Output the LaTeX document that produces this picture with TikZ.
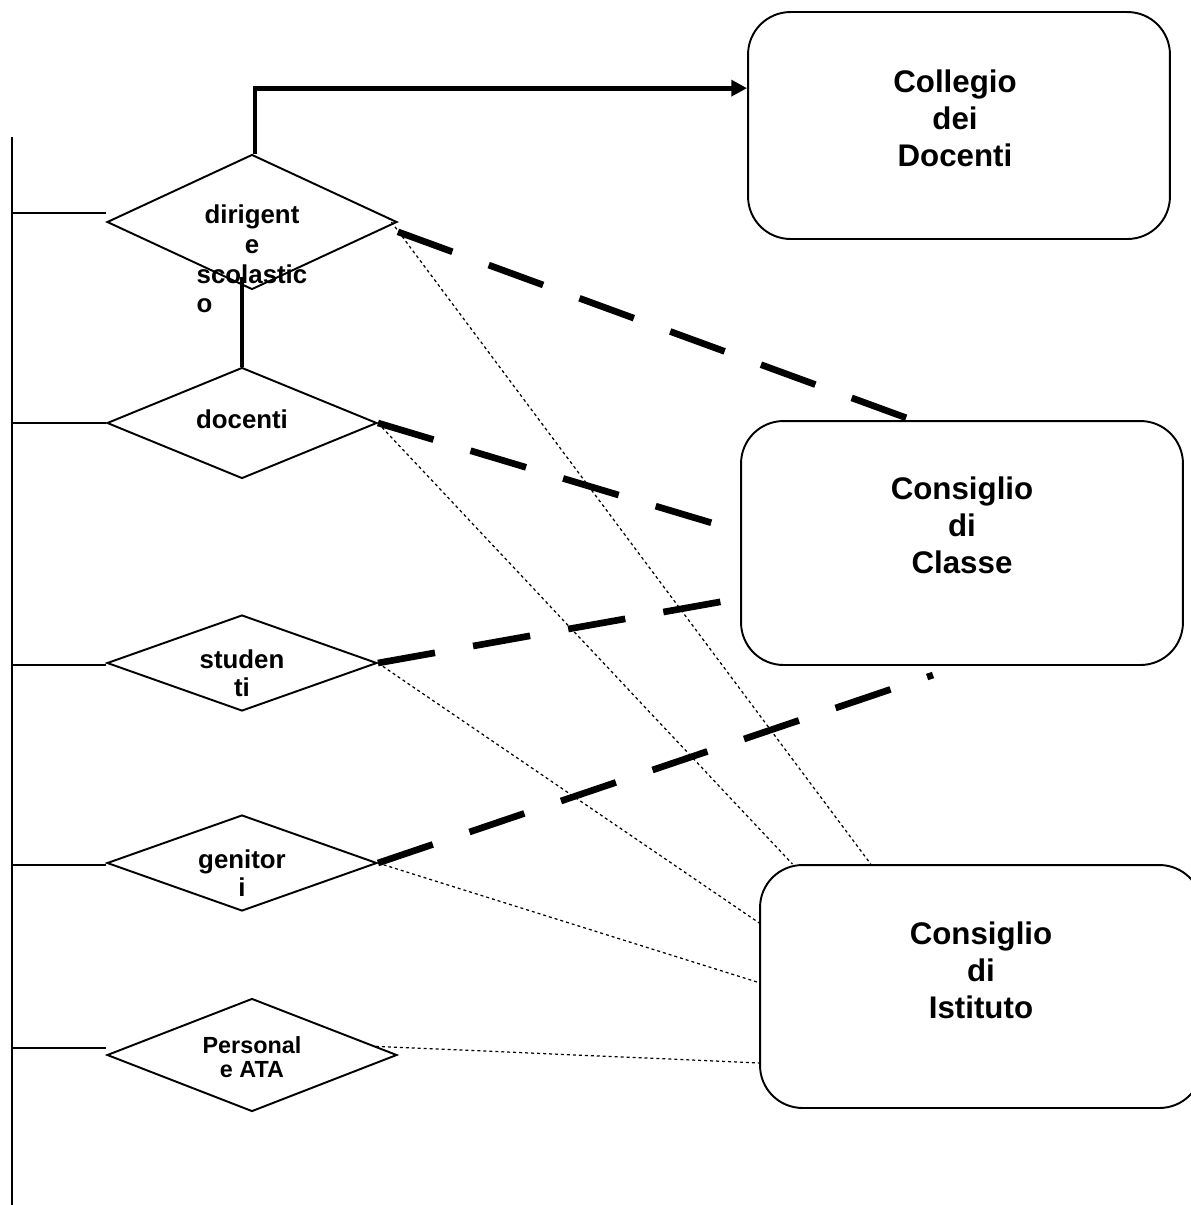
\documentclass[tikz,border=0pt]{standalone}
\usepackage{fontspec}
\setmainfont{Liberation Sans}
\usetikzlibrary{shapes.geometric,arrows.meta}
\begin{document}
\begin{tikzpicture}[x=0.02cm,y=-0.02cm]
	\tikzstyle{rombo}=[draw, diamond, inner sep=0pt, line width=1.1pt]
	\tikzstyle{organo}=[draw, rectangle, rounded corners=0.85cm, line width=1.1pt]
	\tikzstyle{voce}=[font=\fontsize{14.7}{16.2}\selectfont\bfseries, align=center]
	\tikzstyle{titolo}=[font=\fontsize{17.8}{21}\selectfont\bfseries, align=center]
	\tikzstyle{forte}=[line width=3.8pt, dash pattern=on 33pt off 22pt]
	\tikzstyle{tenue}=[line width=0.7pt, dash pattern=on 1.7pt off 1.7pt]
	\useasboundingbox (0,0) rectangle (1191,1205);
	% componenti
	\node[rombo, minimum width=5.8cm, minimum height=2.7cm] (dir) at (252,222) {};
	\node[rombo, minimum width=5.4cm, minimum height=2.22cm] (doc) at (242,423) {};
	\node[rombo, minimum width=5.4cm, minimum height=1.92cm] (stu) at (242,663) {};
	\node[rombo, minimum width=5.4cm, minimum height=1.92cm] (gen) at (242,863) {};
	\node[rombo, minimum width=5.8cm, minimum height=2.26cm] (ata) at (252,1055) {};
	\node[voce, font=\fontsize{14.7}{16.8}\selectfont\bfseries] (dirT) at (252,259) {dirigent\\e\\scolastic\\\rlap{o}\phantom{scolastic}};
	\node[voce] (docT) at (242,419) {docenti};
	\node[voce] (stuT) at (242,673) {studen\\ti};
	\node[voce] (genT) at (242,873) {genitor\\i};
	\node[voce, font=\fontsize{13.3}{13.8}\selectfont\bfseries] (ataT) at (252,1057) {Personal\\e ATA};
	% organi collegiali
	\node[organo, minimum width=8.44cm, minimum height=4.54cm] (col) at (959,125.5) {};
	\node[organo, minimum width=8.84cm, minimum height=4.88cm] (cdc) at (962,543) {};
	\node[organo, minimum width=8.84cm, minimum height=4.86cm] (cdi) at (981,986.5) {};
	\node[titolo] (colT) at (955,118) {Collegio\\dei\\Docenti};
	\node[titolo] (cdcT) at (962,525) {Consiglio\\di\\Classe};
	\node[titolo] (cdiT) at (981,970) {Consiglio\\di\\Istituto};
	% asse
	\coordinate (asse) at (12,137);
	\coordinate (asseB) at (12,1205);
	\draw[line width=1.1pt] (asse) -- (asseB);
	\foreach \n/\s in {dir/5.1,doc/0,stu/-1,gen/-1,ata/4}
		\draw[line width=1.1pt] ([yshift=\s pt]\n.west) -- ([yshift=\s pt]\n.west -| asse);
	% collegamenti
	\draw[line width=2.8pt, -{Triangle[length=9pt,width=9pt]}] ([xshift=1.7pt]dir.north) |- (col.170);
	\draw[line width=2.8pt] (doc.north) -- ++(0,-90);
	\coordinate (fine) at (933,675);
	\draw[forte] ([yshift=-5.6pt]dir.east) -- (cdc.112);
	\draw[forte] (doc.east) -- (cdc.177);
	\draw[forte] (stu.east) -- (cdc.194);
	\draw[forte] (gen.east) -- (fine);
	\draw[tenue] (dir.2) -- (cdi.132);
	\draw[tenue] (doc.east) -- (cdi.147);
	\draw[tenue] (stu.east) -- (cdi.164);
	\draw[tenue] (gen.east) -- (cdi.179);
	\draw[tenue] (ata.4) -- (cdi.199);
\end{tikzpicture}
\end{document}
